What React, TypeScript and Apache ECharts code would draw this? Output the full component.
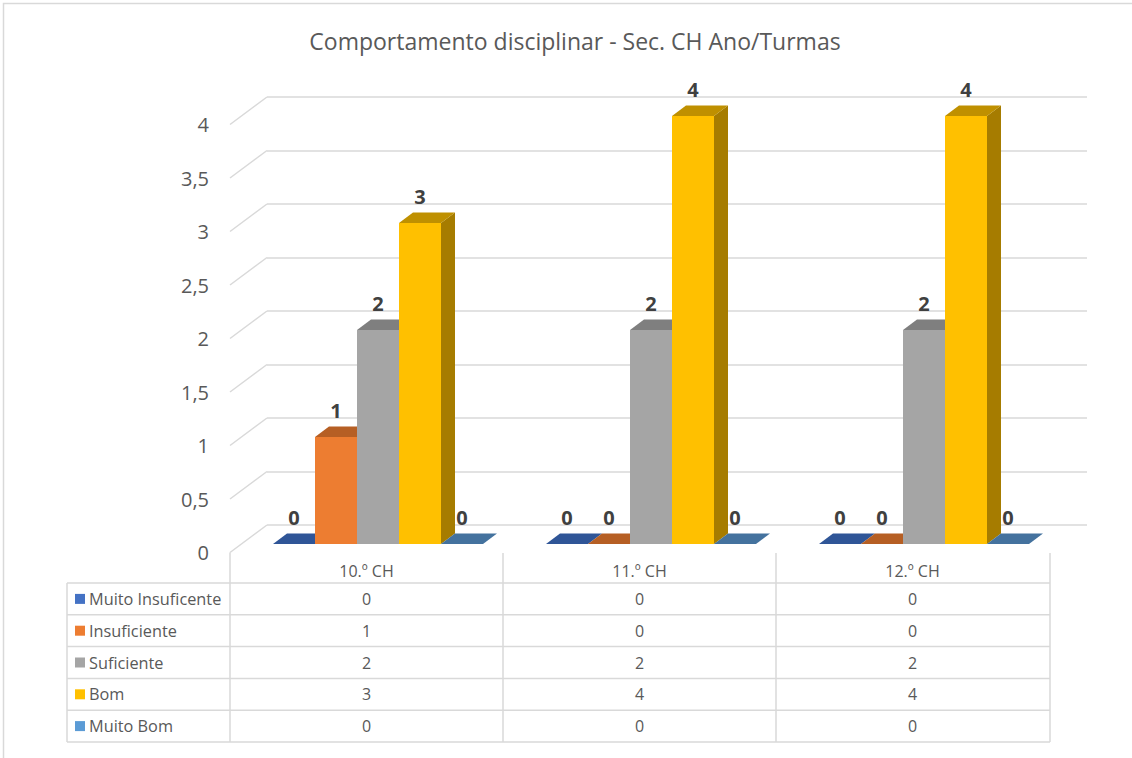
import React, { useEffect, useRef } from "react";
import * as echarts from "echarts";

// ---------- data ----------
const titleText = "Comportamento disciplinar - Sec. CH Ano/Turmas";
const categories = ["10.º CH", "11.º CH", "12.º CH"];
const seriesNames = ["Muito Insuficente", "Insuficiente", "Suficiente", "Bom", "Muito Bom"];
const muitoInsuficente = [0, 0, 0];
const insuficiente = [1, 0, 0];
const suficiente = [2, 2, 2];
const bom = [3, 4, 4];
const muitoBom = [0, 0, 0];
const yTicks = [0, 0.5, 1, 1.5, 2, 2.5, 3, 3.5, 4];

const seriesValues = [muitoInsuficente, insuficiente, suficiente, bom, muitoBom];

// ---------- styles ----------
const FRONT = ["#4472C4", "#ED7D31", "#A5A5A5", "#FFC000", "#5B9BD5"];
const TOP = ["#2F5597", "#B65F24", "#7F7F7F", "#BF9000", "#44729E"];
const SIDE = ["#264478", "#9E480E", "#636363", "#A67C00", "#3A6A94"];
const FONT = '"Open Sans", "Liberation Sans", sans-serif';
const TXT = "#595959";
const GRID_C = "#D9D9D9";

// layout
const FRONT_LEFT = 230;
const PLOT_W = 819;
const FRONT_TOP = 124.5;
const PLOT_H = 428;
const WALL_DX = 37;
const WALL_DY = -27.5;
const BAR_SHIFT_X = 11.5;
const BAR_SHIFT_Y = -8.5;
const BAR_DX = 14;
const BAR_DY = -10.5;
const GROUP_FRAC = 210 / 273;

const TABLE_LEFT = 67;
const TABLE_HEADER_TOP = 553;
const TABLE_ROW0 = 583;
const ROW_H = 31.8;

export default function App() {
  const ref = useRef<HTMLDivElement>(null);

  useEffect(() => {
    if (!ref.current) return;
    const chart = echarts.init(ref.current, undefined, { renderer: "svg" });
    const nS = seriesNames.length;

    const barSeries = seriesNames.map((name, sIdx) => ({
      type: "custom",
      name,
      xAxisIndex: 1,
      yAxisIndex: 1,
      clip: false,
      z: 5,
      data: seriesValues[sIdx].map((v, i) => [i, v]),
      renderItem: (params: any, api: any) => {
        const cat = api.value(0);
        const v = api.value(1);
        const base = api.coord([cat, 0]);
        const top = api.coord([cat, v]);
        const band = api.size([1, 0])[0];
        const bw = (band * GROUP_FRAC) / nS;
        const x0 = base[0] - (bw * nS) / 2 + sIdx * bw;
        const ty = top[1];
        const by = base[1];
        return {
          type: "group",
          children: [
            {
              type: "polygon",
              shape: {
                points: [
                  [x0 + bw, ty],
                  [x0 + bw + BAR_DX, ty + BAR_DY],
                  [x0 + bw + BAR_DX, by + BAR_DY],
                  [x0 + bw, by],
                ],
              },
              style: { fill: SIDE[sIdx] },
            },
            {
              type: "rect",
              shape: { x: x0, y: ty, width: bw, height: by - ty },
              style: { fill: FRONT[sIdx] },
            },
            {
              type: "polygon",
              shape: {
                points: [
                  [x0, ty],
                  [x0 + bw, ty],
                  [x0 + bw + BAR_DX, ty + BAR_DY],
                  [x0 + BAR_DX, ty + BAR_DY],
                ],
              },
              style: { fill: TOP[sIdx] },
            },
            {
              type: "text",
              z2: 10,
              style: {
                text: String(v),
                x: x0 + bw / 2,
                y: ty - 27,
                align: "center",
                verticalAlign: "middle",
                fill: "#404040",
                fontSize: 20,
                fontWeight: "bold",
                fontFamily: FONT,
              },
            },
          ],
        };
      },
    }));

    const wallSeries = {
      type: "custom",
      name: "wall",
      xAxisIndex: 0,
      yAxisIndex: 0,
      clip: false,
      silent: true,
      z: 1,
      data: yTicks.map((t) => [0, t]),
      renderItem: (params: any, api: any) => {
        const p = api.coord([0, api.value(1)]);
        const bx = params.coordSys.x;
        return {
          type: "line",
          shape: { x1: bx, y1: p[1], x2: bx - WALL_DX, y2: p[1] - WALL_DY },
          style: { stroke: GRID_C, lineWidth: 1.5 },
        };
      },
    };

    // table graphics
    const graphics: any[] = [];
    const tableRight = FRONT_LEFT + PLOT_W + 1;
    const colW = PLOT_W / categories.length;
    const nRows = seriesNames.length;
    const tableBottom = TABLE_ROW0 + nRows * ROW_H;
    for (let r = 0; r <= nRows; r++) {
      const y = TABLE_ROW0 + r * ROW_H;
      graphics.push({
        type: "line",
        shape: { x1: TABLE_LEFT, y1: y, x2: tableRight, y2: y },
        style: { stroke: GRID_C, lineWidth: 1.5 },
      });
    }
    graphics.push({
      type: "line",
      shape: { x1: TABLE_LEFT, y1: TABLE_ROW0, x2: TABLE_LEFT, y2: tableBottom },
      style: { stroke: GRID_C, lineWidth: 1.5 },
    });
    for (let k = 0; k <= categories.length; k++) {
      const x = k === categories.length ? tableRight : FRONT_LEFT + k * colW;
      graphics.push({
        type: "line",
        shape: { x1: x, y1: k === 0 ? FRONT_TOP + PLOT_H : TABLE_HEADER_TOP, x2: x, y2: tableBottom },
        style: { stroke: GRID_C, lineWidth: 1.5 },
      });
    }
    categories.forEach((c, k) => {
      graphics.push({
        type: "text",
        style: {
          text: c,
          x: FRONT_LEFT + (k + 0.5) * colW,
          y: 571,
          align: "center",
          verticalAlign: "middle",
          fill: TXT,
          fontSize: 16,
          fontFamily: FONT,
        },
      });
    });
    seriesNames.forEach((name, s) => {
      const cy = TABLE_ROW0 + (s + 0.5) * ROW_H;
      graphics.push({
        type: "rect",
        shape: { x: 75, y: cy - 5, width: 10, height: 10 },
        style: { fill: FRONT[s] },
      });
      graphics.push({
        type: "text",
        style: {
          text: name,
          x: 89,
          y: cy,
          align: "left",
          verticalAlign: "middle",
          fill: TXT,
          fontSize: 16.3,
          fontFamily: FONT,
        },
      });
      seriesValues[s].forEach((v, k) => {
        graphics.push({
          type: "text",
          style: {
            text: String(v),
            x: FRONT_LEFT + (k + 0.5) * colW,
            y: cy,
            align: "center",
            verticalAlign: "middle",
            fill: TXT,
            fontSize: 16,
            fontFamily: FONT,
          },
        });
      });
    });
    graphics.push({
      type: "rect",
      silent: true,
      shape: { x: 3.5, y: 3.5, width: 1200, height: 800 },
      style: { fill: "none", stroke: GRID_C, lineWidth: 1.5 },
    });

    const hiddenX = (gridIndex: number) => ({
      type: "category",
      gridIndex,
      data: categories,
      show: false,
    });

    chart.setOption({
      animation: false,
      backgroundColor: "#ffffff",
      title: {
        text: titleText,
        left: 570,
        top: 24,
        textAlign: "center",
        textStyle: { color: TXT, fontSize: 23, fontWeight: "normal", fontFamily: FONT },
      },
      grid: [
        { left: FRONT_LEFT + WALL_DX, top: FRONT_TOP + WALL_DY, width: PLOT_W + 1, height: PLOT_H },
        { left: FRONT_LEFT + BAR_SHIFT_X, top: FRONT_TOP + BAR_SHIFT_Y, width: PLOT_W, height: PLOT_H },
        { left: FRONT_LEFT, top: FRONT_TOP, width: PLOT_W, height: PLOT_H },
      ],
      xAxis: [hiddenX(0), hiddenX(1), hiddenX(2)],
      yAxis: [
        {
          type: "value",
          gridIndex: 0,
          min: 0,
          max: 4,
          interval: 0.5,
          axisLabel: { show: false },
          axisLine: { show: false },
          axisTick: { show: false },
          splitLine: { show: true, lineStyle: { color: GRID_C, width: 1.5 } },
        },
        { type: "value", gridIndex: 1, min: 0, max: 4, interval: 0.5, show: false },
        {
          type: "value",
          gridIndex: 2,
          min: 0,
          max: 4,
          interval: 0.5,
          axisLine: { show: false },
          axisTick: { show: false },
          splitLine: { show: false },
          axisLabel: {
            margin: 21,
            color: TXT,
            fontSize: 20,
            fontFamily: FONT,
            formatter: (v: number) => String(v).replace(".", ","),
          },
        },
      ],
      graphic: graphics,
      series: [wallSeries, ...barSeries],
    });

    return () => chart.dispose();
  }, []);

  return (
    <div
      ref={ref}
      style={{ position: "fixed", left: 0, top: 0, width: 1132, height: 758, background: "#fff" }}
    />
  );
}
